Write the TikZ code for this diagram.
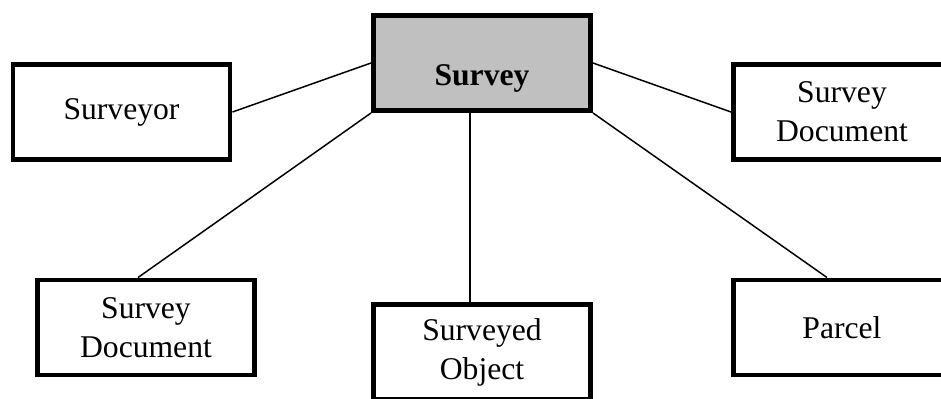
\documentclass[tikz,border=0pt]{standalone}
\usepackage{fontspec}
\setmainfont{Liberation Serif}
\usepackage{tikz}
\definecolor{surveygray}{RGB}{192,192,192}

\begin{document}
\begin{tikzpicture}[entity/.style={draw,line width=2.83pt,minimum width=4.34cm,minimum height=1.9cm,align=center,font=\fontsize{18}{22.3}\selectfont},
                    link/.style={line width=0.85pt}]
              \useasboundingbox (0,0) rectangle (18.82,-7.96);
              \clip (0,0) rectangle (18.82,-7.96);
              \node[entity,fill=surveygray,text height=0.9cm,text depth=0pt](survey)at(9.64,-1.26){\textbf{Survey}};
              \node[entity](surveyor)at(2.43,-2.24){Surveyor};
              \node[entity](docright)at(16.84,-2.24){Survey\\Document};
              \node[entity](docleft)at(2.92,-6.55){Survey\\Document};
              \node[entity](object)at(9.64,-7.04){Surveyed\\Object};
              \node[entity](parcel)at(16.84,-6.55){Parcel};
              \draw[link](surveyor.east)--(survey.west);
              \draw[link](survey.east)--(docright.west);
              \draw[link](survey.south west)--([xshift=-0.16cm]docleft.north);
              \draw[link]([xshift=-0.24cm]survey.south)--([xshift=-0.24cm]object.north);
              \draw[link](survey.south east)--([xshift=-0.3cm]parcel.north);
            \end{tikzpicture}
\end{document}
